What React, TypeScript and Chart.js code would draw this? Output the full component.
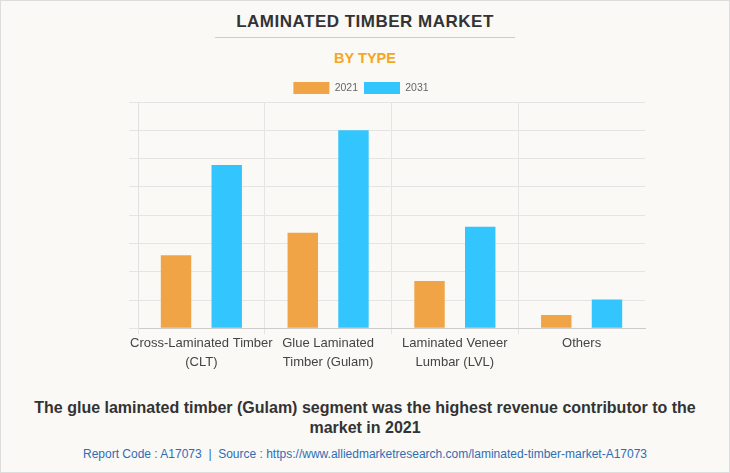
import { useEffect, useRef } from "react"
import { Chart, type ChartConfiguration, type Plugin, registerables } from "chart.js"

Chart.register(...registerables)

const categories = [
  ["Cross-Laminated Timber", "(CLT)"],
  ["Glue Laminated", "Timber (Gulam)"],
  ["Laminated Veneer", "Lumbar (LVL)"],
  "Others",
]
const values2021 = [2.58, 3.38, 1.67, 0.47]
const values2031 = [5.77, 7.0, 3.59, 1.02]
const seriesLabels = ["2021", "2031"]

const FONT = "'Liberation Sans', Arial, sans-serif"

// the legend keeps a fixed 10px gap below itself; trim it a little
const tightLegend: Plugin = {
  id: "tightLegend",
  beforeLayout(chart: any) {
    const lg = chart.legend
    if (!lg || lg._tight) return
    const fit = lg.fit.bind(lg)
    lg.fit = function () {
      fit()
      this.height -= 2
    }
    lg._tight = true
  },
}

function BarChart() {
  const chartRef = useRef<HTMLCanvasElement>(null)
  const chartInstance = useRef<Chart | null>(null)

  useEffect(() => {
    if (!chartRef.current) return
    const ctx = chartRef.current.getContext("2d")
    if (!ctx) return

    if (chartInstance.current) {
      chartInstance.current.destroy()
    }

    const config: ChartConfiguration = {
      type: "bar",
      data: {
        labels: categories,
        datasets: [
          {
            label: seriesLabels[0],
            data: values2021,
            backgroundColor: "#f0a445",
            categoryPercentage: 0.8,
            barPercentage: 0.6,
          },
          {
            label: seriesLabels[1],
            data: values2031,
            backgroundColor: "#33c5fd",
            categoryPercentage: 0.8,
            barPercentage: 0.6,
          },
        ],
      },
      options: {
        responsive: false,
        maintainAspectRatio: false,
        animation: false,
        layout: {
          // legend centred near x=360, plot area from 137 to 644
          padding: { top: 5, left: 76, right: 86, bottom: 0 },
        },
        plugins: {
          legend: {
            position: "top",
            labels: {
              boxWidth: 36,
              boxHeight: 12,
              padding: 6,
              color: "#666",
              font: { family: FONT, size: 10.5 },
            },
          },
          tooltip: { enabled: false },
        },
        scales: {
          x: {
            grid: {
              color: (c: any) => (c.type === "tick" ? "#e4e4e4" : "transparent"),
              tickLength: 6,
            },
            border: { color: "#cccccc" },
            ticks: {
              color: "#444",
              padding: 0,
              maxRotation: 0,
              autoSkip: false,
              font: { family: FONT, size: 13, lineHeight: 1.45 },
            },
          },
          y: {
            min: 0,
            max: 8,
            ticks: { display: false, stepSize: 1 },
            grid: { color: "#e4e4e4", tickLength: 9 },
            border: { color: "#e0e0e0" },
            afterFit: (scale: any) => {
              scale.width = 61
            },
          },
        },
      },
      plugins: [tightLegend],
    }

    chartInstance.current = new Chart(ctx, config)

    return () => {
      if (chartInstance.current) {
        chartInstance.current.destroy()
      }
    }
  }, [])

  return (
    <canvas
      ref={chartRef}
      width={730}
      height={301}
      style={{ position: "absolute", left: 0, top: 70, width: 730, height: 301 }}
    />
  )
}

export default function App() {
  return (
    <div
      style={{
        position: "absolute",
        left: 0,
        top: 0,
        width: 730,
        height: 473,
        boxSizing: "border-box",
        border: "1px solid #dddddd",
        background: "#faf9f5",
        fontFamily: FONT,
        overflow: "hidden",
      }}
    >
      <div
        style={{
          position: "absolute",
          top: 12,
          left: 0,
          width: 728,
          textAlign: "center",
          fontSize: 17,
          lineHeight: "17px",
          fontWeight: "bold",
          color: "#333",
          letterSpacing: 0.5,
        }}
      >
        LAMINATED TIMBER MARKET
      </div>
      <div
        style={{
          position: "absolute",
          top: 36,
          left: 214,
          width: 300,
          height: 1,
          background: "#cccccc",
        }}
      />
      <div
        style={{
          position: "absolute",
          top: 50,
          left: 0,
          width: 728,
          textAlign: "center",
          fontSize: 14.5,
          lineHeight: "15px",
          fontWeight: "bold",
          color: "#f5a623",
        }}
      >
        BY TYPE
      </div>
      <BarChart />
      <div
        style={{
          position: "absolute",
          top: 397,
          left: 0,
          width: 728,
          textAlign: "center",
          fontSize: 16,
          lineHeight: "20px",
          fontWeight: "bold",
          color: "#333",
        }}
      >
        The glue laminated timber (Gulam) segment was the highest revenue contributor to the
        <br />
        market in 2021
      </div>
      <div
        style={{
          position: "absolute",
          top: 446,
          left: 0,
          width: 728,
          textAlign: "center",
          fontSize: 12,
          lineHeight: "14px",
          color: "#2f6db5",
        }}
      >
        Report Code : A17073 &nbsp;|&nbsp; Source : https://www.alliedmarketresearch.com/laminated-timber-market-A17073
      </div>
    </div>
  )
}
